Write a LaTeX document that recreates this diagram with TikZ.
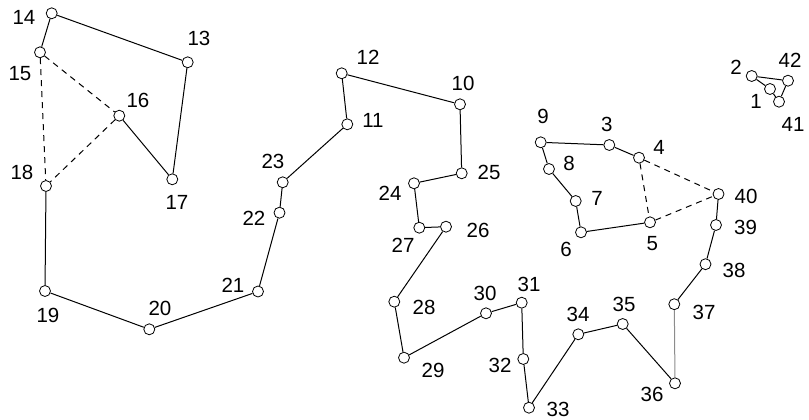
\documentclass[tikz,border=0pt]{standalone}
\usepackage{fontspec}
\setmainfont{Liberation Sans}
\begin{document}
\begin{tikzpicture}[x=1pt,y=-1pt,
  pt/.style={circle,draw=black,fill=white,line width=0.8pt,minimum size=11pt,inner sep=0pt},
  lab/.style={font=\fontsize{20.5}{20.5}\selectfont,inner sep=0pt},
  edge/.style={line width=1pt},
  dedge/.style={line width=1pt,dash pattern=on 6pt off 5pt},
  gedge/.style={line width=1pt,draw=black!45}]
\useasboundingbox (0,0) rectangle (809,420);
% points
\node[pt] (p1) at (770,89) {};
\node[pt] (p2) at (751.7,76) {};
\node[pt] (p3) at (609.3,145) {};
\node[pt] (p4) at (639,157.7) {};
\node[pt] (p5) at (650,222.3) {};
\node[pt] (p6) at (581,232.3) {};
\node[pt] (p7) at (575.7,201) {};
\node[pt] (p8) at (549,169) {};
\node[pt] (p9) at (540.7,142.3) {};
\node[pt] (p10) at (460,104.3) {};
\node[pt] (p11) at (347.3,124.3) {};
\node[pt] (p12) at (341.7,73.3) {};
\node[pt] (p13) at (187.7,62.3) {};
\node[pt] (p14) at (51.7,13.3) {};
\node[pt] (p15) at (40,52.3) {};
\node[pt] (p16) at (119.3,115.7) {};
\node[pt] (p17) at (172.3,179.3) {};
\node[pt] (p18) at (46,186) {};
\node[pt] (p19) at (45,291) {};
\node[pt] (p20) at (149.3,329.3) {};
\node[pt] (p21) at (258,291.5) {};
\node[pt] (p22) at (279.5,212.7) {};
\node[pt] (p23) at (282.7,182.3) {};
\node[pt] (p24) at (414,183.3) {};
\node[pt] (p25) at (461.7,173.3) {};
\node[pt] (p26) at (446,226.7) {};
\node[pt] (p27) at (419.3,227.7) {};
\node[pt] (p28) at (394.3,301.7) {};
\node[pt] (p29) at (404,357.7) {};
\node[pt] (p30) at (486,313.3) {};
\node[pt] (p31) at (521.7,302.7) {};
\node[pt] (p32) at (523.3,359) {};
\node[pt] (p33) at (529,407.7) {};
\node[pt] (p34) at (578.3,334.3) {};
\node[pt] (p35) at (622.7,324) {};
\node[pt] (p36) at (675,383.3) {};
\node[pt] (p37) at (674.3,304.2) {};
\node[pt] (p38) at (705.5,264.2) {};
\node[pt] (p39) at (716,225) {};
\node[pt] (p40) at (718.5,194) {};
\node[pt] (p41) at (779,101.7) {};
\node[pt] (p42) at (788,80.7) {};
% labels
\node[lab] (l1) at (756,101) {1};
\node[lab] (l2) at (736,67) {2};
\node[lab] (l3) at (606.7,124) {3};
\node[lab] (l4) at (659,147) {4};
\node[lab] (l5) at (652.3,244) {5};
\node[lab] (l6) at (566,249) {6};
\node[lab] (l7) at (597,198) {7};
\node[lab] (l8) at (569,163) {8};
\node[lab] (l9) at (543,116) {9};
\node[lab] (l10) at (463,83) {10};
\node[lab] (l11) at (373,120) {11};
\node[lab] (l12) at (368,57) {12};
\node[lab] (l13) at (199,38) {13};
\node[lab] (l14) at (24,17.5) {14};
\node[lab] (l15) at (20,74) {15};
\node[lab] (l16) at (138,100) {16};
\node[lab] (l17) at (177,202) {17};
\node[lab] (l18) at (22,172) {18};
\node[lab] (l19) at (48,315) {19};
\node[lab] (l20) at (160,308) {20};
\node[lab] (l21) at (233,285) {21};
\node[lab] (l22) at (254,218) {22};
\node[lab] (l23) at (273,161) {23};
\node[lab] (l24) at (390,193) {24};
\node[lab] (l25) at (489,172) {25};
\node[lab] (l26) at (478,230) {26};
\node[lab] (l27) at (403,245) {27};
\node[lab] (l28) at (424,307) {28};
\node[lab] (l29) at (433,370) {29};
\node[lab] (l30) at (485,293) {30};
\node[lab] (l31) at (529,284) {31};
\node[lab] (l32) at (500,365) {32};
\node[lab] (l33) at (558,409) {33};
\node[lab] (l34) at (578,314) {34};
\node[lab] (l35) at (624,304) {35};
\node[lab] (l36) at (652,394) {36};
\node[lab] (l37) at (704,312) {37};
\node[lab] (l38) at (734,270) {38};
\node[lab] (l39) at (745.5,227.5) {39};
\node[lab] (l40) at (746,196) {40};
\node[lab] (l41) at (793,124) {41};
\node[lab] (l42) at (790,60) {42};
% solid edges
\draw[edge] (p9) -- (p3) -- (p4);
\draw[edge] (p9) -- (p8) -- (p7) -- (p6) -- (p5);
\draw[edge] (p11) -- (p12) -- (p10) -- (p25) -- (p24) -- (p27) -- (p26) -- (p28) -- (p29) -- (p30) -- (p31) -- (p32) -- (p33) -- (p34) -- (p35) -- (p36);
\draw[gedge] (p36) -- (p37);
\draw[edge] (p37) -- (p38) -- (p39) -- (p40);
\draw[edge] (p11) -- (p23) -- (p22) -- (p21) -- (p20) -- (p19) -- (p18);
\draw[edge] (p15) -- (p14) -- (p13) -- (p17) -- (p16);
\draw[edge] (p2) -- (p42) -- (p41) -- (p1) -- (p2);
% dashed edges
\draw[dedge] (p4) -- (p5);
\draw[dedge] (p4) -- (p40);
\draw[dedge] (p5) -- (p40);
\draw[dedge] (p15) -- (p16);
\draw[dedge] (p15) -- (p18);
\draw[dedge] (p16) -- (p18);
\end{tikzpicture}
\end{document}
